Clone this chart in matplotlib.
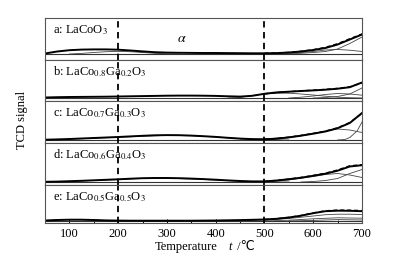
import numpy as np
import matplotlib.pyplot as plt
from matplotlib.ticker import MultipleLocator

plt.rcParams['font.family'] = ['Liberation Serif', 'DejaVu Sans']
plt.rcParams['mathtext.fontset'] = 'stix'

# temperature grid of the measured curves (degC)
temp = [50, 75, 100, 125, 150, 175, 200, 225, 250, 275, 300, 325, 350, 375,
        400, 425, 450, 475, 500, 525, 550, 575, 600, 625, 650, 675, 700]

labels = [r'a: LaCoO$_3$',
          r'b: LaCo$_{0.8}$Ga$_{0.2}$O$_3$',
          r'c: LaCo$_{0.7}$Ga$_{0.3}$O$_3$',
          r'd: LaCo$_{0.6}$Ga$_{0.4}$O$_3$',
          r'e: LaCo$_{0.5}$Ga$_{0.5}$O$_3$']

# measured TCD signal (arbitrary units above baseline)
sig_a = [0.5, 2.5, 3.8, 4.4, 4.6, 4.6, 4.3, 3.5, 2.6, 1.8, 1.4, 1.2, 1.1, 1.0,
         1.0, 0.9, 0.8, 0.7, 0.7, 0.9, 1.5, 2.5, 4.0, 6.0, 9.5, 14.5, 19.5]
sig_b = [0.5, 0.8, 1.0, 1.1, 1.2, 1.3, 1.5, 1.7, 1.9, 2.1, 2.3, 2.4, 2.4, 2.3,
         2.1, 1.7, 1.4, 2.2, 4.2, 5.6, 6.3, 7.0, 7.6, 8.3, 9.3, 10.8, 15.5]
sig_c = [0.3, 0.6, 1.0, 1.5, 2.0, 2.5, 3.0, 3.6, 4.2, 4.7, 4.9, 4.8, 4.4, 3.8,
         3.1, 2.2, 1.4, 0.9, 0.7, 1.3, 2.6, 4.3, 6.3, 8.5, 11.8, 17.0, 27.0]
sig_d = [0.2, 0.4, 0.8, 1.2, 1.7, 2.2, 2.7, 3.3, 3.8, 4.0, 4.0, 3.8, 3.4, 2.9,
         2.3, 1.6, 1.0, 0.6, 0.6, 1.5, 2.8, 4.3, 6.2, 8.3, 11.3, 15.5, 16.8]
sig_e = [0.5, 1.0, 1.3, 1.3, 1.0, 0.6, 0.4, 0.3, 0.3, 0.3, 0.3, 0.3, 0.3, 0.4,
         0.5, 0.7, 0.9, 1.2, 1.5, 2.2, 3.5, 5.3, 7.8, 9.8, 10.3, 10.2, 9.8]

# fitted envelope (dashed), high temperature part
fit_t = [500, 525, 550, 575, 600, 625, 650, 675, 700]
fit_a = [0.7, 1.0, 1.6, 2.7, 4.3, 6.6, 10.3, 15.2, 20.0]
fit_b = [4.2, 5.5, 6.3, 7.1, 7.8, 8.6, 9.6, 11.2, 15.2]
fit_c = [0.7, 1.3, 2.7, 4.5, 6.6, 8.9, 12.2, 17.5, 26.5]
fit_d = [0.6, 1.5, 2.9, 4.5, 6.5, 8.8, 12.0, 16.2, 17.2]
fit_e = [1.5, 2.3, 3.6, 5.5, 8.1, 10.2, 10.9, 10.8, 10.4]

# deconvoluted components (thin lines): (temperatures, values)
comp_a = [([100, 125, 150, 175, 200, 225, 250, 275, 300, 325],
           [0.0, 0.6, 1.5, 2.3, 2.6, 2.3, 1.5, 0.7, 0.2, 0.0]),
          ([500, 550, 600, 625, 650, 675, 700],
           [0.0, 0.5, 2.5, 4.0, 4.5, 3.8, 2.5]),
          ([550, 600, 625, 650, 675, 700],
           [0.0, 1.5, 2.5, 5.0, 10.5, 17.0])]
comp_b = [([425, 450, 475, 500, 525, 550, 575, 600, 625, 650, 675, 700],
           [0.0, 0.5, 2.5, 4.0, 4.8, 4.8, 4.0, 3.0, 1.8, 0.8, 0.3, 0.0]),
          ([550, 575, 600, 625, 650, 675, 700],
           [0.0, 0.8, 2.0, 3.5, 4.5, 4.0, 2.8]),
          ([600, 625, 650, 675, 700],
           [0.0, 0.5, 1.5, 4.0, 10.0])]
comp_c = [([100, 150, 200, 250, 300, 350, 400, 450, 500, 550],
           [0.8, 1.8, 2.7, 3.8, 4.6, 4.3, 3.0, 1.4, 0.4, 0.0]),
          ([450, 500, 550, 600, 625, 650, 675, 700],
           [0.0, 1.0, 3.0, 6.5, 9.0, 11.0, 10.0, 7.5]),
          ([650, 665, 675, 690, 700],
           [0.0, 0.5, 2.5, 9.0, 18.0])]
comp_d = [([100, 150, 200, 250, 300, 350, 400, 450, 500, 550],
           [0.6, 1.5, 2.5, 3.6, 3.8, 3.0, 1.9, 0.8, 0.2, 0.0]),
          ([500, 550, 600, 625, 650, 675, 700],
           [0.0, 2.0, 5.5, 7.5, 8.5, 7.0, 4.5]),
          ([575, 600, 625, 650, 675, 700],
           [0.0, 0.5, 1.5, 3.5, 8.5, 12.5])]
comp_e = [([50, 75, 100, 125, 150, 200, 250],
           [0.5, 1.0, 1.3, 1.2, 0.8, 0.2, 0.0]),
          ([450, 500, 550, 600, 625, 650, 675, 700],
           [0.0, 1.0, 2.5, 5.0, 6.3, 6.8, 6.8, 6.5]),
          ([500, 550, 600, 650, 700],
           [0.0, 0.8, 2.2, 3.2, 2.8]),
          ([550, 600, 650, 700],
           [0.0, 0.6, 1.4, 1.0])]

signals = [sig_a, sig_b, sig_c, sig_d, sig_e]
fits = [fit_a, fit_b, fit_c, fit_d, fit_e]
comps = [comp_a, comp_b, comp_c, comp_d, comp_e]
# panel heights and baseline offsets (in pixels)
heights = [42, 41, 42, 42, 37.5]
base_off = [6, 3, 3, 3, 1.5]

fig = plt.figure(figsize=(4.02, 2.70), dpi=100)
gs = fig.add_gridspec(5, 1, height_ratios=heights, hspace=0,
                      left=45 / 402, right=362 / 402,
                      top=1 - 18 / 270, bottom=1 - 222.5 / 270)

axes = []
for i in range(5):
    ax = fig.add_subplot(gs[i])
    axes.append(ax)
    h, b = heights[i], base_off[i]
    ax.set_xlim(50, 700)
    ax.set_ylim(-b, h - b)
    ax.axhline(0, color='#333333', lw=0.8)
    for ct, cv in comps[i]:
        ax.plot(ct, cv, color='#444444', lw=0.6)
    ax.plot(fit_t, fits[i], color='black', lw=1.0, ls=(0, (3, 2)))
    ax.plot(temp, signals[i], color='black', lw=1.4)
    for xv in (200, 500):
        ax.axvline(xv, color='black', lw=1.3, ls=(0, (3.5, 2.5)))
    ax.text(0.025, 1 - 12 / h, labels[i], transform=ax.transAxes,
            fontsize=9, va='center', ha='left')
    ax.set_yticks([])
    for s in ax.spines.values():
        s.set_color('#555555')
        s.set_linewidth(0.8)
    if i < 4:
        ax.tick_params(axis='x', which='both', bottom=False, labelbottom=False)
    else:
        ax.xaxis.set_major_locator(MultipleLocator(100))
        ax.xaxis.set_minor_locator(MultipleLocator(50))
        ax.tick_params(axis='x', which='major', direction='in', length=3,
                       width=0.7, labelsize=9, pad=4)
        ax.tick_params(axis='x', which='minor', direction='in', length=2,
                       width=0.7)

axes[0].text(331, 16, r'$\alpha$', fontsize=10, ha='center', va='center')

fig.text(186 / 402, 1 - 247 / 270, 'Temperature', fontsize=9,
         ha='center', va='center')
fig.text(228 / 402, 1 - 247 / 270, 't', fontsize=9, style='italic',
         ha='left', va='center')
fig.text(234 / 402, 1 - 247 / 270, ' /℃', fontsize=9,
         ha='left', va='center')
fig.text(22 / 402, 0.5 + (270 / 2 - 120) / 270, 'TCD signal', fontsize=9,
         rotation=90, ha='center', va='center')

fig.savefig('out.png', dpi=100)
